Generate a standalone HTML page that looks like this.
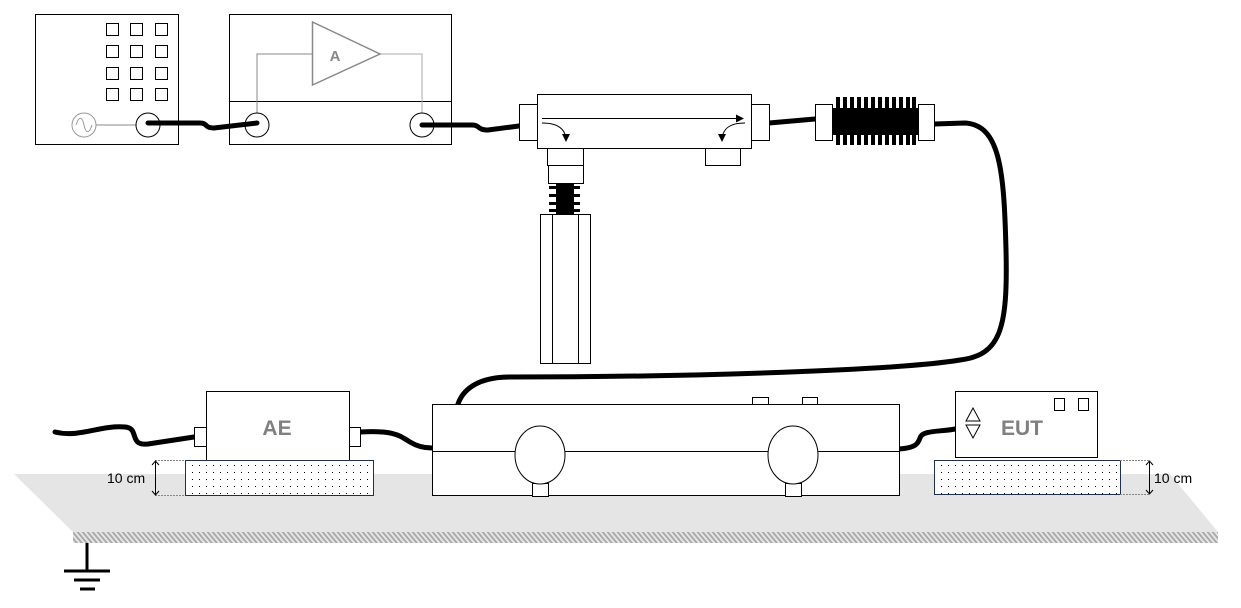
<!DOCTYPE html>
<html><head><meta charset="utf-8"><style>body{margin:0;background:#fff}svg{display:block}</style></head><body>
<svg width="1241" height="608" viewBox="0 0 1241 608" xmlns="http://www.w3.org/2000/svg" font-family="Liberation Sans, sans-serif">
<defs>
<pattern id="dots" width="7" height="7" patternUnits="userSpaceOnUse"><rect width="7" height="7" fill="#fff"/><rect x="3" y="3" width="1" height="1" fill="#000"/></pattern>
<pattern id="hatch" width="5" height="11" patternUnits="userSpaceOnUse" patternTransform="skewX(40)"><rect width="5" height="11" fill="#e6e6e6"/><rect width="2.5" height="11" fill="#aaa"/></pattern>
<marker id="ah" markerWidth="8" markerHeight="8" refX="7" refY="4" orient="auto" markerUnits="userSpaceOnUse"><path d="M0,0 L8,4 L0,8z" fill="#000"/></marker>
</defs>
<polygon points="14,474 1170,474 1218,532 73,532" fill="#e5e5e5"/>
<rect x="73" y="532" width="1145" height="11" fill="url(#hatch)"/>
<g stroke="#000" stroke-width="3"><line x1="87" y1="543" x2="87" y2="571"/><line x1="64" y1="571" x2="110" y2="571"/><line x1="74" y1="580" x2="100" y2="580"/><line x1="80" y1="589" x2="95" y2="589"/></g>

<rect x="35.5" y="14.5" width="143" height="130" fill="#fff" stroke="#000"/>
<g fill="none" stroke="#000">
<rect x="106.5" y="23.5" width="12" height="12"/><rect x="130.5" y="23.5" width="12" height="12"/><rect x="155.5" y="23.5" width="12" height="12"/>
<rect x="106.5" y="45.5" width="12" height="12"/><rect x="130.5" y="45.5" width="12" height="12"/><rect x="155.5" y="45.5" width="12" height="12"/>
<rect x="106.5" y="67.5" width="12" height="12"/><rect x="130.5" y="67.5" width="12" height="12"/><rect x="155.5" y="67.5" width="12" height="12"/>
<rect x="106.5" y="88.5" width="12" height="12"/><rect x="130.5" y="88.5" width="12" height="12"/><rect x="155.5" y="88.5" width="12" height="12"/>
</g>
<circle cx="84" cy="125" r="12" fill="none" stroke="#999"/>
<path d="M76,125 C79,116 82,116 84,125 C86,134 89,134 92,125" fill="none" stroke="#999"/>
<line x1="96" y1="125" x2="136" y2="125" stroke="#888"/>
<circle cx="148" cy="125" r="12" fill="none" stroke="#000"/>

<rect x="229.5" y="14.5" width="222" height="130" fill="#fff" stroke="#000"/>
<line x1="229" y1="101.5" x2="451" y2="101.5" stroke="#000"/>
<polyline points="257,113 257,54 312,54" fill="none" stroke="#888"/>
<polyline points="380,54 422,54 422,113" fill="none" stroke="#aaa"/>
<polygon points="312.5,22 380,54 312.5,85" fill="#fff" stroke="#888" stroke-width="1.5"/>
<text x="335" y="61" font-size="15" font-weight="bold" fill="#888" text-anchor="middle">A</text>
<circle cx="257" cy="125" r="12" fill="none" stroke="#000"/>
<circle cx="422" cy="125" r="12" fill="none" stroke="#000"/>

<g fill="none" stroke="#000" stroke-width="5" stroke-linecap="round">
<path d="M148,123 L200,123 C208,123 204,128 214,128 L257,123"/>
<path d="M422,125 L472,125 C480,125 477,130 488,130 L519,126"/>
<path d="M769,123 L815,119"/>
<path d="M934,124 L965,123 C1000,125 1004,170 1006,250 C1008,330 1000,355 960,360 C900,370 700,377 510,377 C475,377 462,392 458,404"/>
<path d="M55,432 C80,438 100,425 125,427 C140,428 128,446 148,444 L194,437"/>
<path d="M360,432 C395,430 400,436 410,442 C418,447 425,448 432,448"/>
<path d="M899,449 C915,448 918,444 920,438 C922,430 940,432 955,429"/>
</g>

<rect x="519.5" y="104.5" width="18" height="36" fill="#fff" stroke="#000"/>
<rect x="751.5" y="104.5" width="18" height="36" fill="#fff" stroke="#000"/>
<rect x="537.5" y="94.5" width="214" height="54" fill="#fff" stroke="#000"/>
<line x1="542" y1="118.5" x2="743" y2="118.5" stroke="#000" marker-end="url(#ah)"/>
<path d="M542,123 C555,123 566,127 566,141" fill="none" stroke="#000" marker-end="url(#ah)"/>
<path d="M745,123 C732,123 722,127 722,141" fill="none" stroke="#000" marker-end="url(#ah)"/>
<rect x="547.5" y="148.5" width="36" height="17" fill="#fff" stroke="#000"/>
<rect x="548.5" y="165.5" width="35" height="18" fill="#fff" stroke="#000"/>
<rect x="705.5" y="148.5" width="35" height="17" fill="#fff" stroke="#000"/>
<rect x="556" y="183" width="18" height="31" fill="#000"/>
<g fill="#000"><rect x="549" y="186" width="31" height="3"/><rect x="549" y="194" width="31" height="3"/><rect x="549" y="202" width="31" height="3"/><rect x="549" y="209" width="31" height="3"/></g>
<rect x="540.5" y="214.5" width="50" height="149" fill="#fff" stroke="#000"/>
<line x1="552.5" y1="215" x2="552.5" y2="364" stroke="#000"/>
<line x1="578.5" y1="215" x2="578.5" y2="363" stroke="#000"/>

<g fill="#000">
<rect x="836" y="97" width="4" height="48"/><rect x="843" y="97" width="4" height="48"/><rect x="850" y="97" width="4" height="48"/><rect x="857" y="97" width="4" height="48"/><rect x="864" y="97" width="4" height="48"/><rect x="871" y="97" width="4" height="48"/><rect x="878" y="97" width="4" height="48"/><rect x="885" y="97" width="4" height="48"/><rect x="892" y="97" width="4" height="48"/><rect x="899" y="97" width="4" height="48"/><rect x="906" y="97" width="4" height="48"/><rect x="912" y="97" width="4" height="48"/>
<rect x="832" y="108" width="86" height="27"/>
</g>
<rect x="815.5" y="104.5" width="17" height="36" fill="#fff" stroke="#000"/>
<rect x="918.5" y="104.5" width="16" height="36" fill="#fff" stroke="#000"/>

<rect x="194.5" y="427.5" width="12" height="19" fill="#fff" stroke="#000"/>
<rect x="349.5" y="427.5" width="11" height="19" fill="#fff" stroke="#000"/>
<rect x="206.5" y="391.5" width="143" height="69" fill="#fff" stroke="#000"/>
<text x="277" y="435" font-size="21" font-weight="bold" fill="#808080" text-anchor="middle">AE</text>
<rect x="185.5" y="460.5" width="188" height="35" fill="url(#dots)" stroke="#1f2f4f"/>
<g stroke="#888" stroke-dasharray="2,1"><line x1="155" y1="460.5" x2="185" y2="460.5"/><line x1="155" y1="495.5" x2="185" y2="495.5"/></g>
<line x1="155.5" y1="461" x2="155.5" y2="495" stroke="#000"/>
<path d="M152,465 L155.5,461 L159,465 M152,491 L155.5,495 L159,491" fill="none" stroke="#000"/>
<text x="107" y="483" font-size="14" fill="#000">10 cm</text>

<rect x="752.5" y="397.5" width="16" height="7" fill="#fff" stroke="#000"/>
<rect x="802.5" y="397.5" width="15" height="7" fill="#fff" stroke="#000"/>
<rect x="432.5" y="404.5" width="467" height="91" fill="#fff" stroke="#000"/>
<line x1="432" y1="451.5" x2="899" y2="451.5" stroke="#000"/>
<rect x="532.5" y="483.5" width="16" height="13" fill="#fff" stroke="#000"/>
<rect x="785.5" y="483.5" width="16" height="13" fill="#fff" stroke="#000"/>
<ellipse cx="540" cy="455" rx="25" ry="29" fill="#fff" stroke="#000"/>
<ellipse cx="793" cy="455" rx="25" ry="29" fill="#fff" stroke="#000"/>

<rect x="955.5" y="391.5" width="142" height="66" fill="#fff" stroke="#000"/>
<rect x="1054.5" y="398.5" width="10" height="12" fill="none" stroke="#000"/>
<rect x="1078.5" y="398.5" width="10" height="12" fill="none" stroke="#000"/>
<polygon points="973,408 966,421 980,421" fill="none" stroke="#000"/>
<polygon points="966,425 980,425 973,438" fill="none" stroke="#000"/>
<text x="1022" y="435" font-size="21" font-weight="bold" fill="#808080" text-anchor="middle">EUT</text>
<rect x="934.5" y="460.5" width="186" height="34" fill="url(#dots)" stroke="#1f2f4f"/>
<g stroke="#888" stroke-dasharray="2,1"><line x1="1120" y1="460.5" x2="1150" y2="460.5"/><line x1="1120" y1="494.5" x2="1150" y2="494.5"/></g>
<line x1="1149.5" y1="461" x2="1149.5" y2="494" stroke="#000"/>
<path d="M1146,465 L1149.5,461 L1153,465 M1146,490 L1149.5,494 L1153,490" fill="none" stroke="#000"/>
<text x="1154" y="483" font-size="14" fill="#000">10 cm</text>
</svg>
</body></html>
